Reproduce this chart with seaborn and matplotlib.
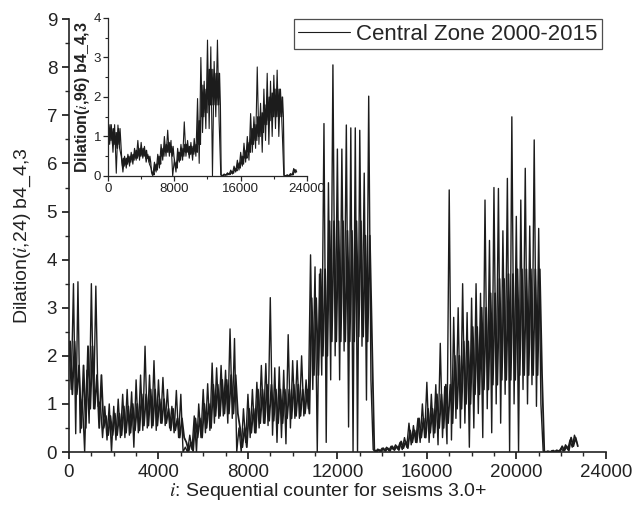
import numpy as np
import pandas as pd
import matplotlib
matplotlib.use("Agg")
import matplotlib.pyplot as plt
from matplotlib.ticker import MultipleLocator
import seaborn as sns

sns.set_style("ticks")
plt.rcParams['font.family'] = ['Liberation Sans', 'DejaVu Sans']
plt.rcParams['mathtext.fontset'] = 'stix'

# Main series, Dilation(i,24): spike maximum / minimum per 200-event block
main_bin_start = np.arange(0, 22800, 200)
main_high = [2.3, 3.5, 3.54, 1.1, 1.7, 3.5, 3.45, 1.05, 0.95, 1.0,
             0.95, 1.1, 1.2, 1.3, 1.25, 1.5, 1.6, 2.2, 1.6, 1.9,
             1.5, 1.55, 1.3, 0.95, 1.28, 1.2, 0.1, 0.35, 0.75, 1.0,
             1.3, 1.42, 1.85, 1.75, 1.8, 1.7, 2.56, 2.36, 0.5, 0.9,
             1.2, 1.3, 1.45, 1.8, 1.84, 3.21, 1.75, 1.77, 1.7, 2.44,
             1.9, 1.9, 2.0, 1.5, 4.1, 3.85, 3.7, 6.83, 5.6, 8.05,
             6.3, 6.3, 6.8, 6.74, 6.74, 6.69, 5.8, 7.4, 0.05, 0.06,
             0.08, 0.1, 0.12, 0.15, 0.2, 0.3, 0.6, 0.55, 0.7, 1.0,
             1.45, 1.2, 1.4, 2.26, 1.36, 5.45, 2.8, 3.0, 3.5, 2.9,
             3.2, 3.5, 3.3, 5.24, 4.4, 5.5, 5.48, 4.6, 5.69, 6.97,
             4.9, 5.24, 5.9, 4.7, 6.49, 4.65, 0.02, 0.02, 0.03, 0.04,
             0.08, 0.15, 0.25, 0.35]
main_low = [1.3, 0.38, 0.4, 0.0, 0.6, 0.9, 0.95, 0.3, 0.25, 0.0,
            0.25, 0.3, 0.3, 0.35, 0.1, 0.4, 0.45, 0.5, 0.5, 0.45,
            0.6, 0.55, 0.5, 0.4, 0.3, 0.0, 0.0, 0.05, 0.0, 0.3,
            0.4, 0.45, 0.6, 0.7, 0.75, 0.6, 0.7, 0.0, 0.0, 0.2,
            0.3, 0.4, 0.5, 0.6, 0.55, 0.35, 0.2, 0.3, 0.17, 0.5,
            0.7, 0.7, 0.75, 0.9, 1.3, 0.0, 1.6, 0.2, 1.5, 2.0,
            1.5, 2.1, 0.52, 0.0, 0.0, 2.2, 1.08, 1.5, 0.0, 0.02,
            0.03, 0.03, 0.05, 0.06, 0.05, 0.1, 0.15, 0.2, 0.2, 0.3,
            0.2, 0.3, 0.15, 0.3, 0.17, 0.25, 0.7, 0.5, 0.6, 0.1,
            0.5, 0.8, 0.3, 0.9, 0.4, 1.0, 0.6, 1.2, 0.0, 1.0,
            0.0, 1.3, 1.0, 1.4, 0.95, 1.0, 0.0, 0.0, 0.0, 0.01,
            0.02, 0.05, 0.1, 0.2]

# Main series: usual swing (dense core) per 400-event block
main_core_start = np.arange(0, 22800, 400)
main_core_top = [2.3, 1.8, 2.2, 1.6, 0.75, 0.8, 0.95, 1.0, 1.2, 1.3,
                 1.1, 0.9, 0.7, 0.2, 0.7, 1.0, 1.4, 1.5, 1.6, 0.5,
                 0.9, 1.3, 1.4, 1.3, 1.3, 1.4, 1.3, 3.2, 3.8, 4.8,
                 4.8, 4.6, 4.8, 4.5, 0.05, 0.08, 0.12, 0.22, 0.45, 0.7,
                 0.9, 1.2, 1.4, 2.0, 2.3, 2.6, 3.0, 3.3, 3.6, 3.7,
                 3.8, 3.8, 3.8, 0.01, 0.03, 0.12, 0.3]
main_core_bottom = [1.2, 0.5, 0.9, 0.5, 0.35, 0.35, 0.4, 0.45, 0.55, 0.55,
                    0.6, 0.45, 0.3, 0.02, 0.3, 0.5, 0.75, 0.8, 0.8, 0.1,
                    0.4, 0.6, 0.65, 0.6, 0.7, 0.75, 0.8, 1.6, 2.0, 2.3,
                    2.3, 2.3, 2.4, 2.3, 0.0, 0.02, 0.04, 0.08, 0.2, 0.3,
                    0.4, 0.5, 0.6, 0.9, 1.0, 1.2, 1.3, 1.4, 1.5, 1.5,
                    1.6, 1.6, 1.6, 0.0, 0.0, 0.03, 0.12]

# Inset series, Dilation(i,96): maximum / minimum per 400-event block
inset_bin_start = np.arange(0, 22800, 400)
inset_high = [1.5, 1.3, 1.3, 1.29, 0.5, 0.5, 0.55, 0.6, 0.7, 0.9,
              0.85, 0.75, 0.55, 0.2, 0.35, 0.55, 0.8, 1.0, 1.16, 0.9,
              0.4, 0.7, 0.8, 1.37, 0.9, 0.85, 0.95, 1.96, 3.0, 2.4,
              3.44, 3.27, 2.9, 3.44, 0.03, 0.05, 0.08, 0.15, 0.25, 0.4,
              0.6, 0.83, 1.0, 1.58, 1.5, 2.76, 1.84, 2.2, 2.6, 2.4,
              2.55, 2.68, 2.2, 0.02, 0.03, 0.06, 0.19]
inset_low = [0.8, 0.6, 0.07, 0.7, 0.1, 0.2, 0.25, 0.3, 0.4, 0.4,
             0.45, 0.35, 0.3, 0.0, 0.1, 0.2, 0.4, 0.5, 0.5, 0.0,
             0.1, 0.35, 0.4, 0.5, 0.45, 0.4, 0.5, 0.32, 1.1, 1.2,
             1.2, 0.0, 1.5, 1.4, 0.0, 0.02, 0.03, 0.05, 0.1, 0.15,
             0.25, 0.35, 0.4, 0.6, 0.7, 0.8, 0.6, 0.9, 0.8, 1.0,
             1.2, 1.0, 1.2, 0.0, 0.0, 0.02, 0.08]
# Inset usual swing per 400-event block
inset_core_top = [1.3, 1.2, 1.1, 1.2, 0.45, 0.45, 0.5, 0.55, 0.65, 0.7,
                  0.7, 0.65, 0.5, 0.1, 0.3, 0.5, 0.7, 0.8, 0.85, 0.75,
                  0.35, 0.6, 0.7, 0.8, 0.75, 0.75, 0.8, 1.4, 2.3, 2.2,
                  2.7, 2.7, 2.6, 2.6, 0.02, 0.04, 0.07, 0.12, 0.2, 0.33,
                  0.5, 0.65, 0.85, 1.2, 1.3, 1.5, 1.6, 1.8, 2.0, 2.1,
                  2.2, 2.2, 2.0, 0.01, 0.02, 0.05, 0.16]
inset_core_bottom = [0.9, 0.8, 0.7, 0.8, 0.25, 0.3, 0.35, 0.4, 0.45, 0.5,
                     0.5, 0.45, 0.35, 0.03, 0.15, 0.3, 0.5, 0.6, 0.6, 0.5,
                     0.2, 0.4, 0.5, 0.6, 0.55, 0.55, 0.6, 0.8, 1.5, 1.6,
                     1.8, 1.8, 1.8, 1.8, 0.0, 0.02, 0.04, 0.07, 0.13, 0.2,
                     0.3, 0.45, 0.6, 0.8, 0.9, 1.0, 1.1, 1.3, 1.4, 1.5,
                     1.5, 1.5, 1.5, 0.0, 0.0, 0.03, 0.1]


def zigzag(starts, high, low, offsets):
    # swing between the block's upper and lower value, once per offset pair
    starts = np.asarray(starts)
    cols_x, cols_y = [], []
    for k, off in enumerate(offsets):
        cols_x.append(starts + off)
        cols_y.append(high if k % 2 == 0 else low)
    counter = np.ravel(np.column_stack(cols_x))
    value = np.ravel(np.column_stack(cols_y))
    return pd.DataFrame({'counter': counter, 'dilation': value})


main_df = zigzag(main_bin_start, main_high, main_low, [0, 100])
main_core_df = zigzag(main_core_start, main_core_top, main_core_bottom,
                      [50, 150, 250, 350])
inset_df = zigzag(inset_bin_start, inset_high, inset_low, [0, 200])
inset_core_df = zigzag(inset_bin_start, inset_core_top, inset_core_bottom,
                       [50, 150, 250, 350])
trace_color = '#1c1c1c'

fig = plt.figure(figsize=(6.33, 5.14), dpi=100)
ax = fig.add_axes([0.109, 0.1206, 0.848, 0.842])

sns.lineplot(data=main_core_df, x='counter', y='dilation', ax=ax,
             color=trace_color, linewidth=1.3, estimator=None, sort=False)
sns.lineplot(data=main_df, x='counter', y='dilation', ax=ax, color=trace_color,
             linewidth=1.0, estimator=None, sort=False,
             label='Central Zone 2000-2015')
ax.set_xlim(0, 24000)
ax.set_ylim(0, 9)
ax.xaxis.set_major_locator(MultipleLocator(4000))
ax.xaxis.set_minor_locator(MultipleLocator(1000))
ax.yaxis.set_major_locator(MultipleLocator(1))
ax.yaxis.set_minor_locator(MultipleLocator(0.5))
ax.tick_params(which='major', direction='out', length=5, width=1.1,
               labelsize=13.5, color='black', labelcolor='#222222')
ax.tick_params(which='minor', direction='out', length=3, width=1.0)
for s in ['left', 'bottom']:
    ax.spines[s].set_linewidth(1.2)
    ax.spines[s].set_color('#222222')
ax.spines['top'].set_visible(False)
ax.spines['right'].set_visible(False)
ax.set_xlabel(r'$i$: Sequential counter for seisms 3.0+', fontsize=14,
              color='#222222')
ax.xaxis.set_label_coords(0.482, -0.068)
ax.set_ylabel(r'Dilation($i$,24) b4_4,3', fontsize=14, color='#222222',
              labelpad=10)

leg = ax.legend(loc='upper right', bbox_to_anchor=(0.993, 1.0),
                borderaxespad=0, fontsize=16, frameon=True, fancybox=False,
                handlelength=2.3, handletextpad=0.3, borderpad=0.2)
leg.get_frame().set_edgecolor('#222222')
leg.get_frame().set_linewidth(0.9)
for line in leg.get_lines():
    line.set_linewidth(0.8)

# inset
axin = fig.add_axes([0.1706, 0.6576, 0.3144, 0.3074])
sns.lineplot(data=inset_core_df, x='counter', y='dilation', ax=axin,
             color=trace_color, linewidth=0.9, estimator=None, sort=False)
sns.lineplot(data=inset_df, x='counter', y='dilation', ax=axin,
             color=trace_color, linewidth=0.8, estimator=None, sort=False)
axin.set_xlim(0, 24000)
axin.set_ylim(0, 4)
axin.xaxis.set_major_locator(MultipleLocator(8000))
axin.xaxis.set_minor_locator(MultipleLocator(4000))
axin.yaxis.set_major_locator(MultipleLocator(1))
axin.yaxis.set_minor_locator(MultipleLocator(0.5))
axin.tick_params(which='major', direction='out', length=3.5, width=0.9,
                 labelsize=9.5, pad=1.5, labelcolor='#222222')
axin.tick_params(which='minor', direction='out', length=2, width=0.8)
for s in ['left', 'bottom']:
    axin.spines[s].set_linewidth(0.9)
axin.spines['top'].set_visible(False)
axin.spines['right'].set_visible(False)
axin.set_xlabel('')
axin.set_ylabel(r'Dilation($i$,96) b4_4,3', fontsize=11.5, fontweight='bold',
                color='#222222', labelpad=1)
axin.patch.set_alpha(0)

fig.savefig('out.png', dpi=100)
